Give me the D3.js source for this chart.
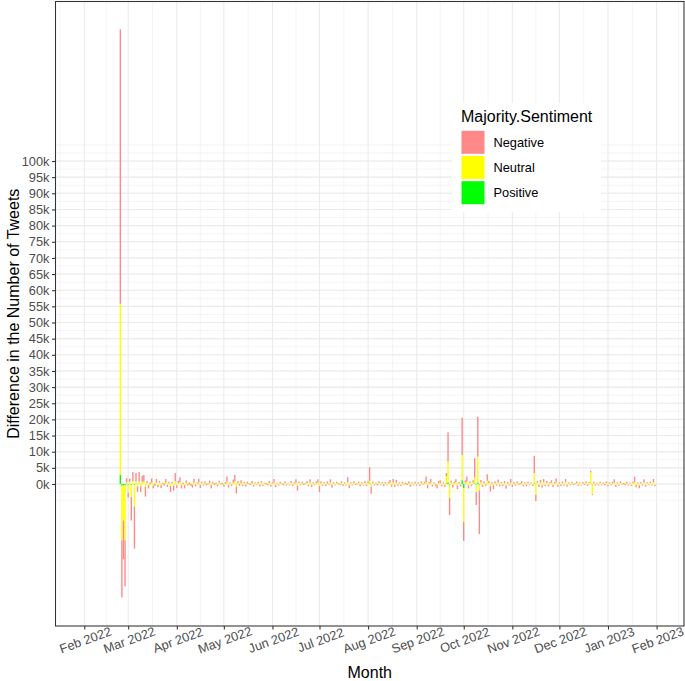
<!DOCTYPE html>
<html>
<head>
<meta charset="utf-8">
<script src="https://cdn.jsdelivr.net/npm/d3@7/dist/d3.min.js"></script>
<style>
  html, body { margin: 0; padding: 0; background: #fff; }
  svg { display: block; font-family: "Liberation Sans", Arial, sans-serif; }
</style>
</head>
<body>
<svg id="chart" width="685" height="681"></svg>
<script>
// ---------------- DATA (daily differences, in thousands of tweets) ----------------
const firstDay = "2022-02-24";           // first day of the series
const seriesNames = ["Negative", "Neutral", "Positive"];
const seriesColors = ["#FF8888", "#FFFF00", "#00FF00"];
const yTickLabels = ["0k","5k","10k","15k","20k","25k","30k","35k","40k","45k","50k",
  "55k","60k","65k","70k","75k","80k","85k","90k","95k","100k"];
const xTickLabels = ["Feb 2022","Mar 2022","Apr 2022","May 2022","Jun 2022","Jul 2022",
  "Aug 2022","Sep 2022","Oct 2022","Nov 2022","Dec 2022","Jan 2023","Feb 2023"];

const negative = [
  // Feb 24-28
  85,-17.6,-12,-14.3,1.3,
  // Mar
  -1.5,1.0,-7.3,2.8,-13,2.6,-1.6,2.9,-1.8,1.8,2.0,-3.0,0.6,-1.0,0.5,1.2,-0.8,-0.6,1.1,-0.7,0.4,-0.9,0.3,-0.5,1.1,-0.6,0.5,-1.8,0.4,-1.5,2.5,
  // Apr
  -0.8,0.6,1.5,-1.0,0.4,-1.0,0.7,-0.4,0.5,-0.6,-0.8,1.1,-0.5,0.3,1.2,-0.9,0.4,-0.3,0.6,-0.4,0.2,0.7,-1.0,0.5,-0.3,0.4,-0.5,0.6,-0.2,0.3,
  // May
  -0.6,0.4,1.7,-0.8,0.3,-0.4,0.9,2.0,-2.1,0.6,-0.5,0.8,-0.4,0.3,-0.6,0.5,0.2,-0.3,0.7,-0.5,0.3,-0.2,0.4,-0.6,0.5,-0.3,0.2,0.3,-0.4,0.6,-0.5,
  // Jun
  0.3,1.1,-0.7,0.2,-0.3,0.4,0.2,-0.4,0.5,-0.3,0.2,-0.2,0.6,-0.4,0.3,1.0,-1.5,0.4,-0.2,0.5,-0.3,0.2,0.6,-0.4,1.0,-0.6,0.3,-0.2,0.4,1.0,
  // Jul
  -1.8,0.5,-0.3,0.3,-0.4,0.6,-0.2,1.0,-0.8,0.3,-0.2,0.4,0.2,-0.3,0.5,-0.4,0.3,-0.2,1.6,-0.9,0.3,-0.2,0.5,-0.3,0.2,0.4,-0.5,0.3,-0.2,0.6,-0.4,
  // Aug
  0.5,4.2,-2.2,0.4,-0.3,0.3,-0.4,0.5,-0.2,0.3,-0.5,0.4,-0.2,0.3,0.8,-0.5,1.1,-0.6,0.8,-0.4,0.3,-0.3,0.5,-0.2,0.4,-0.3,0.6,-0.5,0.3,-0.2,0.4,
  // Sep
  -0.3,0.3,-0.4,0.5,-0.2,0.4,1.7,-1.0,0.4,1.1,-0.5,0.3,-0.4,-1.0,0.6,0.8,-0.4,0.3,-0.6,1.0,9.0,-5.3,0.6,-0.8,0.4,0.9,-1.1,0.4,-0.5,11.5,
  // Oct
  -5.9,0.6,1.6,-0.9,0.5,-0.4,0.7,6.0,-4.0,12.3,-13.5,0.8,-0.6,0.5,-0.4,2.0,0.6,-1.7,0.4,-1.2,0.5,-0.3,0.9,-0.5,0.3,-0.4,0.6,-1.0,0.4,-0.3,1.1,
  // Nov
  -0.6,0.4,-0.3,0.5,-0.2,0.3,0.6,-0.4,0.3,-0.5,0.4,-0.2,0.3,-0.3,5.3,-2.0,0.5,-0.6,0.8,-0.7,1.0,-0.4,0.6,-0.5,0.3,0.7,-0.6,0.4,1.2,-0.5,
  // Dec
  0.3,-0.4,0.5,-0.3,1.0,-0.5,0.3,-0.2,0.4,-0.3,0.2,0.5,-0.4,0.3,-0.2,0.4,-0.3,0.5,-0.4,0.3,0.5,-0.3,0.4,-0.3,0.2,-0.3,0.4,-0.2,0.3,-0.4,0.5,
  // Jan
  -0.4,0.3,-0.2,0.4,1.0,-0.6,0.3,-0.3,0.5,-0.2,0.3,-0.4,0.5,-0.3,0.2,-0.3,0.4,1.6,-0.7,0.3,-0.9,0.4,-0.3,1.0,-0.5,0.3,-0.2,0.4,-0.3,1.0,-0.4
];
const neutral = [
  // Feb 24-28
  53,-17,-11,-17,0.4,
  // Mar
  -2.5,0.6,-3.8,0.8,-6.8,0.7,-0.7,0.7,-0.6,0.6,0.7,-0.8,0.3,-0.4,-0.3,0.4,-0.5,0.3,0.4,-0.3,0.5,-0.3,-0.2,0.4,0.4,-0.3,0.2,-0.6,0.3,-0.5,0.8,
  // Apr
  -0.4,0.3,0.5,-0.4,-0.2,-0.3,0.4,0.2,-0.3,0.3,-0.3,0.4,-0.2,0.2,0.4,-0.3,0.3,-0.2,0.2,0.3,-0.3,0.3,-0.3,0.2,0.3,-0.2,-0.2,0.4,0.2,-0.3,
  // May
  -0.2,0.2,0.5,-0.3,0.2,-0.2,0.4,0.7,-0.7,0.3,0.2,0.3,-0.3,0.3,-0.2,0.2,-0.2,0.3,0.2,-0.3,0.2,-0.2,0.3,-0.2,0.4,-0.3,0.2,-0.2,0.2,0.3,-0.3,
  // Jun
  0.2,0.4,-0.3,0.2,-0.2,0.3,-0.2,0.2,0.3,-0.2,0.2,-0.3,0.3,-0.2,0.2,0.4,-0.5,0.3,-0.2,0.2,0.3,-0.2,0.3,-0.3,0.4,-0.3,0.2,-0.2,0.3,0.4,
  // Jul
  -0.6,0.3,-0.2,0.3,-0.2,0.2,0.2,0.4,-0.3,0.2,-0.2,0.3,-0.2,0.2,0.3,-0.2,0.2,-0.3,0.5,-0.3,0.2,-0.2,0.3,0.2,-0.2,0.3,-0.2,0.2,-0.3,0.3,-0.2,
  // Aug
  0.3,0.8,-0.7,0.3,-0.2,0.2,0.2,0.3,-0.2,0.3,-0.2,0.2,-0.2,0.3,0.4,-0.3,0.4,-0.3,0.4,-0.2,0.2,-0.3,0.2,0.2,-0.2,0.3,0.2,-0.3,0.2,-0.2,0.3,
  // Sep
  -0.2,0.2,-0.2,0.3,0.2,0.3,0.5,-0.3,0.2,0.4,-0.3,0.2,-0.2,-0.3,0.3,0.3,-0.3,0.2,-0.3,2.2,6.5,-4.1,0.4,-0.3,0.3,0.5,-0.4,0.2,-0.3,7.8,
  // Oct
  -10.4,0.4,0.6,-0.4,0.3,-0.2,0.4,1.8,-2.3,8.0,-1.8,0.4,-0.3,0.3,-0.2,0.9,0.3,-0.6,0.2,-0.4,0.3,-0.2,0.4,-0.2,0.3,-0.2,0.3,-0.4,0.2,-0.2,0.4,
  // Nov
  -0.3,0.2,-0.2,0.3,0.2,-0.2,0.3,-0.3,0.2,-0.2,0.3,-0.2,0.2,-0.3,3.2,-3.2,0.4,-0.3,0.4,-0.4,0.5,-0.3,0.3,-0.2,0.3,0.4,-0.3,0.2,0.5,-0.3,
  // Dec
  0.2,-0.2,0.3,-0.2,0.5,-0.3,0.2,-0.2,0.3,0.2,-0.2,0.3,-0.2,0.2,-0.3,0.2,0.2,0.3,-0.2,0.3,3.5,-3.1,0.3,-0.2,0.2,-0.2,0.3,-0.2,0.2,0.2,0.3,
  // Jan
  -0.3,0.2,-0.2,0.3,0.4,-0.3,0.2,-0.2,0.3,0.2,-0.2,0.3,0.2,-0.2,0.2,-0.3,0.3,0.6,-0.3,0.2,-0.4,0.2,-0.2,0.4,-0.3,0.2,-0.2,0.3,-0.2,0.5,-0.3
];
const positive = [
  // Feb 24-28
  2.8,-0.5,-0.3,-0.4,0.1,
  // Mar
  -0.2,0.1,-0.2,0.1,-0.2,0.1,-0.1,0.1,-0.1,0.1,0.1,-0.1,0.05,0,0,0.1,-0.05,0,0.05,0,0.05,-0.05,0,0,0.05,0,0,-0.05,0,-0.05,0.1,
  // Apr
  0,0.05,0.05,0,0,-0.05,0,0,0,0,0,0.05,0,0,0.05,-0.05,0,0,0,0,0,0.05,-0.05,0,0,0,0,0.05,0,0,
  // May
  0,0,0.1,0,0,0,0.05,0.1,-0.1,0,0,0.05,0,0,0,0,0,0,0.05,0,0,0,0,0,0.05,0,0,0,0,0,0,
  // Jun
  0,0.05,0,0,0,0,0,0,0,0,0,0,0.05,0,0,0.05,-0.05,0,0,0,0,0,0,0,0.05,0,0,0,0,0.05,
  // Jul
  -0.05,0,0,0,0,0,0,0.05,0,0,0,0,0,0,0,0,0,0,0.05,-0.05,0,0,0,0,0,0,0,0,0,0,0,
  // Aug
  0,0.2,-0.1,0,0,0,0,0,0,0,0,0,0,0,0.05,0,0.05,0,0.05,0,0,0,0,0,0,0,0,0,0,0,0,
  // Sep
  0,0,0,0,0,0,0.1,-0.05,0,0.05,0,0,0,-0.05,0,0.05,0,0,0,0.2,0.5,-0.2,0.05,0,0,0.1,-0.05,0,0,1.2,
  // Oct
  -1.3,0.1,0.1,-0.05,0,0,0.05,0.2,-0.2,0.5,-0.2,0.05,0,0,0,0.1,0,-0.05,0,0,0,0,0.05,0,0,0,0,-0.05,0,0,0.05,
  // Nov
  0,0,0,0,0,0,0,0,0,0,0,0,0,0,0.2,-0.1,0.05,0,0.05,0,0.05,0,0,0,0,0.05,0,0,0.05,0,
  // Dec
  0,0,0,0,0.05,0,0,0,0,0,0,0,0,0,0,0,0,0,0,0,0.1,-0.05,0,0,0,0,0,0,0,0,0,
  // Jan
  0,0,0,0,0.05,0,0,0,0,0,0,0,0,0,0,0,0,0.05,0,0,0,0,0,0.05,0,0,0,0,0,0.05,0
];

// ---------------- LAYOUT ----------------
const svg = d3.select("#chart");
const panel = { left: 55.5, right: 684, top: 1.5, bottom: 626 };

const parse = d3.timeParse("%Y-%m-%d");
const start = parse(firstDay);
const nDays = negative.length;
const days = d3.range(nDays).map(i => d3.timeDay.offset(start, i));

const x = d3.scaleTime()
  .domain([new Date(2022, 1, 1), new Date(2023, 1, 1)])
  .range([84.3, 656.6]);
const y = d3.scaleLinear().domain([0, 100]).range([484, 161]);

// table for stacking
const table = days.map((d, i) => ({
  date: d, Negative: negative[i], Neutral: neutral[i], Positive: positive[i]
}));
const stack = d3.stack()
  .keys(["Positive", "Neutral", "Negative"])
  .offset(d3.stackOffsetDiverging);
const stacked = stack(table);

// panel background
svg.append("rect").attr("x", panel.left).attr("y", panel.top)
  .attr("width", panel.right - panel.left).attr("height", panel.bottom - panel.top)
  .attr("fill", "#fff");

const clip = svg.append("clipPath").attr("id", "clip").append("rect")
  .attr("x", panel.left).attr("y", panel.top)
  .attr("width", panel.right - panel.left).attr("height", panel.bottom - panel.top);

const grid = svg.append("g").attr("clip-path", "url(#clip)");

// minor y grid
const yMinor = d3.range(-5, 105.01, 2.5);
grid.selectAll(".ymin").data(yMinor).join("line")
  .attr("x1", panel.left).attr("x2", panel.right)
  .attr("y1", d => y(d)).attr("y2", d => y(d))
  .attr("stroke", "#EBEBEB").attr("stroke-width", 0.55);

// minor x grid (midpoints between month breaks, extended one step)
const monthEdges = d3.timeMonth.range(new Date(2022, 0, 1), new Date(2023, 2, 2));
const xMinor = [];
for (let i = 0; i < monthEdges.length - 1; i++) {
  xMinor.push(new Date((+monthEdges[i] + +monthEdges[i + 1]) / 2));
}
grid.selectAll(".xmin").data(xMinor).join("line")
  .attr("y1", panel.top).attr("y2", panel.bottom)
  .attr("x1", d => x(d)).attr("x2", d => x(d))
  .attr("stroke", "#EBEBEB").attr("stroke-width", 0.55);

// major grid
const yMajor = d3.range(0, 100.01, 5);
grid.selectAll(".ymaj").data(yMajor).join("line")
  .attr("x1", panel.left).attr("x2", panel.right)
  .attr("y1", d => y(d)).attr("y2", d => y(d))
  .attr("stroke", "#EBEBEB").attr("stroke-width", 1.07);
const xMajor = d3.timeMonth.range(new Date(2022, 1, 1), new Date(2023, 1, 2));
grid.selectAll(".xmaj").data(xMajor).join("line")
  .attr("y1", panel.top).attr("y2", panel.bottom)
  .attr("x1", d => x(d)).attr("x2", d => x(d))
  .attr("stroke", "#EBEBEB").attr("stroke-width", 1.07);

// bars
const colorOf = d3.scaleOrdinal().domain(seriesNames).range(seriesColors);
const bars = svg.append("g").attr("clip-path", "url(#clip)");
stacked.forEach(layer => {
  bars.append("g").attr("fill", colorOf(layer.key))
    .selectAll("rect").data(layer).join("rect")
    .attr("x", d => x(d3.timeHour.offset(d.data.date, -10.8)))
    .attr("width", d => x(d3.timeHour.offset(d.data.date, 10.8)) - x(d3.timeHour.offset(d.data.date, -10.8)))
    .attr("y", d => y(Math.max(d[0], d[1])))
    .attr("height", d => Math.abs(y(d[0]) - y(d[1])));
});

// panel border
svg.append("rect").attr("x", panel.left).attr("y", panel.top)
  .attr("width", panel.right - panel.left).attr("height", panel.bottom - panel.top)
  .attr("fill", "none").attr("stroke", "#333333").attr("stroke-width", 1.07);

// y axis
const yAxis = d3.axisLeft(y).tickValues(yMajor).tickSize(3.5).tickPadding(2.5)
  .tickFormat((d, i) => yTickLabels[i]);
const gy = svg.append("g").attr("transform", `translate(${panel.left},0)`).call(yAxis);
gy.select(".domain").remove();
gy.selectAll(".tick line").attr("stroke", "#333333").attr("stroke-width", 1.07);
gy.selectAll(".tick text").attr("fill", "#4D4D4D").style("font-size", "12.8px")
  .style("font-family", "'Liberation Sans', Arial, sans-serif");

// x axis
const xAxis = d3.axisBottom(x).tickValues(xMajor).tickSize(3.5).tickPadding(0)
  .tickFormat((d, i) => xTickLabels[i]);
const gx = svg.append("g").attr("transform", `translate(0,${panel.bottom})`).call(xAxis);
gx.select(".domain").remove();
gx.selectAll(".tick line").attr("stroke", "#333333").attr("stroke-width", 1.07);
gx.selectAll(".tick text")
  .attr("fill", "#4D4D4D").style("font-size", "12.8px")
  .style("font-family", "'Liberation Sans', Arial, sans-serif")
  .attr("text-anchor", "middle")
  .attr("dy", null).attr("y", 0)
  .attr("transform", "translate(1,15) rotate(-20)")
  .attr("dominant-baseline", "middle");

// axis titles
svg.append("text").attr("x", (panel.left + panel.right) / 2).attr("y", 678)
  .attr("text-anchor", "middle").style("font-size", "16px").attr("fill", "#000")
  .text("Month");
svg.append("text")
  .attr("transform", `translate(19,${(panel.top + panel.bottom) / 2}) rotate(-90)`)
  .attr("text-anchor", "middle").style("font-size", "16px").attr("fill", "#000")
  .text("Difference in the Number of Tweets");

// legend
const lg = svg.append("g");
lg.append("rect").attr("x", 452).attr("y", 103).attr("width", 149).attr("height", 109)
  .attr("fill", "#fff");
lg.append("text").attr("x", 461).attr("y", 121.5).style("font-size", "16px")
  .attr("fill", "#000").text("Majority.Sentiment");
seriesNames.forEach((s, i) => {
  const ky = 130.8 + i * 25.2;
  lg.append("rect").attr("x", 461.5).attr("y", ky).attr("width", 23).attr("height", 23)
    .attr("fill", colorOf(s));
  lg.append("text").attr("x", 493.5).attr("y", ky + 11.5 + 4.6).style("font-size", "12.8px")
    .attr("fill", "#000").text(s);
});
</script>
</body>
</html>
